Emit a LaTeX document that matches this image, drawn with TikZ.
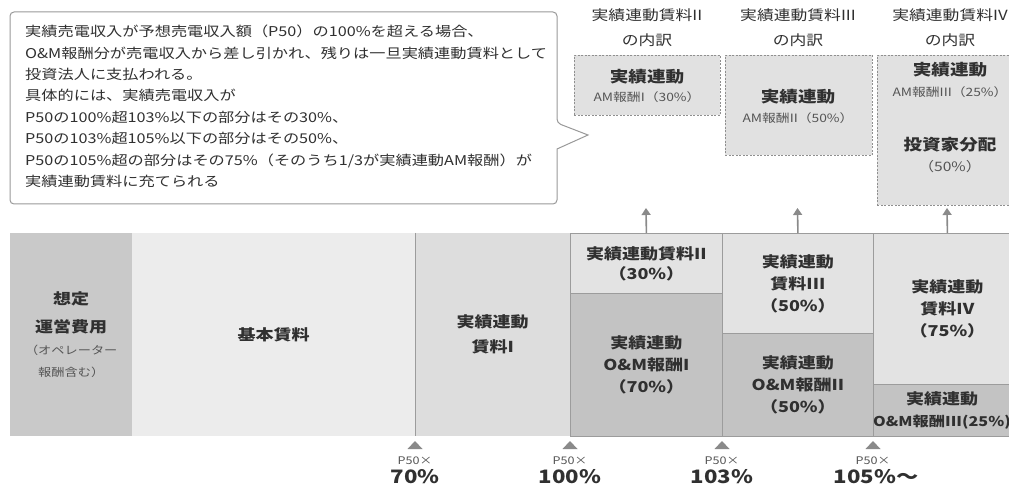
\documentclass[tikz,border=0pt]{standalone}
\usepackage{fontspec}
\setmainfont{Noto Sans CJK JP}[FakeStretch=1.2]
\usetikzlibrary{arrows.meta}
\definecolor{cA}{HTML}{C9C9C9}
\definecolor{cB}{HTML}{ECECEC}
\definecolor{cC}{HTML}{DDDDDD}
\definecolor{ctop}{HTML}{E3E3E3}
\definecolor{cbot}{HTML}{C3C3C3}
\definecolor{boxc}{HTML}{E1E1E1}
\definecolor{edgec}{HTML}{9C9C9C}
\definecolor{dashc}{HTML}{8F8F8F}
\definecolor{txtc}{HTML}{303030}
\definecolor{subc}{HTML}{555555}
\definecolor{arrc}{HTML}{8A8A8A}
\definecolor{callc}{HTML}{999999}
\newcommand{\smallsub}{\mdseries\fontsize{11}{22}\selectfont\color{subc}}
\begin{document}
\begin{tikzpicture}[x=1pt,y=-1pt,
  sec/.style={inner sep=0pt, anchor=north west, align=center, text=txtc, font=\bfseries\fontsize{15}{22}\selectfont},
  secb/.style={sec, draw=edgec, line width=0.8pt},
  dbox/.style={draw=dashc, dash pattern=on 2pt off 1.5pt, line width=0.8pt, fill=boxc, inner sep=0pt, anchor=north west},
  head/.style={align=center, text=txtc, font=\fontsize{14}{25}\selectfont, inner sep=0pt},
  boxbig/.style={text=txtc, font=\bfseries\fontsize{15.5}{20}\selectfont, inner sep=0pt},
  boxsmall/.style={text=subc, font=\fontsize{11.5}{16}\selectfont, inner sep=0pt},
  uparrow/.style={draw=arrc, line width=1.6pt, -{Triangle[width=9pt,length=7pt]}},
  tri/.style={fill=arrc},
  axsmall/.style={text=subc, font=\fontsize{10.5}{12}\selectfont, inner sep=0pt},
  axbig/.style={text=txtc, font=\bfseries\fontsize{18.5}{22}\selectfont, inner sep=0pt},
  notetext/.style={anchor=north west, align=left, inner sep=0pt, text=txtc, font=\fontsize{13.5}{21.4}\selectfont}
]
\useasboundingbox (0,0) rectangle (1009,486);

% callout
\draw[callc, line width=1pt, fill=white, rounded corners=4pt]
  (10,12) -- (557,12) -- (557,123) [sharp corners] -- (588,135) -- (557,149) [rounded corners=4pt] -- (557,204) -- (10,204) -- cycle;
\node[notetext] (note) at (25,25) {実績売電収入が予想売電収入額（P50）の100\%を超える場合、\\
O\&M報酬分が売電収入から差し引かれ、残りは一旦実績連動賃料として\\
投資法人に支払われる。\\
具体的には、実績売電収入が\\
P50の100\%超103\%以下の部分はその30\%、\\
P50の103\%超105\%以下の部分はその50\%、\\
P50の105\%超の部分はその75\%（そのうち1/3が実績連動AM報酬）が\\
実績連動賃料に充てられる};

% headings
\node[head] (h2) at (647,27.5) {実績連動賃料II\\の内訳};
\node[head] (h3) at (798,27.5) {実績連動賃料III\\の内訳};
\node[head] (h4) at (950,27.5) {実績連動賃料IV\\の内訳};

% breakdown boxes
\node[dbox, minimum width=146pt, minimum height=60pt] (b2) at (574,55) {};
\node[dbox, minimum width=147pt, minimum height=100pt] (b3) at (725,55) {};
\node[dbox, minimum width=150pt, minimum height=150pt] (b4) at (877,55) {};
\node[boxbig] (b2a) at (647,77) {実績連動};
\node[boxsmall] (b2b) at (647,97) {AM報酬I（30\%）};
\node[boxbig] (b3a) at (798,97) {実績連動};
\node[boxsmall] (b3b) at (798,118) {AM報酬II（50\%）};
\node[boxbig] (b4a) at (950,70) {実績連動};
\node[boxsmall] (b4b) at (950,92) {AM報酬III（25\%）};
\node[boxbig] (b4c) at (950,145) {投資家分配};
\node[boxsmall, font=\fontsize{13}{16}\selectfont] (b4d) at (950,167) {（50\%）};

% bar sections
\node[sec, fill=cA, minimum width=122pt, minimum height=203pt] (s1) at (10,233)
  {想定\\[6pt]運営費用\\\smallsub（オペレーター\\\smallsub 報酬含む）};
\node[sec, fill=cB, minimum width=283pt, minimum height=203pt] (s2) at (132,233) {基本賃料};
\node[sec, fill=cC, minimum width=155pt, minimum height=203pt] (s3) at (415,233) {実績連動\\[3pt]賃料I};
\draw[edgec, line width=1pt] (s3.north west) -- (s3.south west);
\node[secb, fill=ctop, minimum width=152pt, minimum height=60pt] (s4t) at (570,233) {実績連動賃料II\\[-2pt]（30\%）};
\node[secb, fill=cbot, minimum width=152pt, minimum height=143pt] (s4b) at (570,293) {実績連動\\O\&M報酬I\\（70\%）};
\node[secb, fill=ctop, minimum width=151pt, minimum height=100pt] (s5t) at (722,233) {実績連動\\賃料III\\（50\%）};
\node[secb, fill=cbot, minimum width=151pt, minimum height=103pt] (s5b) at (722,333) {実績連動\\O\&M報酬II\\（50\%）};
\node[secb, fill=ctop, minimum width=148pt, minimum height=151pt] (s6t) at (873,233) {実績連動\\賃料IV\\（75\%）};
\node[secb, fill=cbot, minimum width=148pt, minimum height=52pt] (s6b) at (873,384) {};
\node[sec, anchor=center] (s6btext) at (942,410) {実績連動\\\fontsize{13.5}{22}\selectfont O\&M報酬III(25\%)};

% up arrows
\coordinate (t2) at (646,208);
\coordinate (t3) at (797.5,208);
\coordinate (t4) at (947,208);
\draw[uparrow] (s4t.north) -- (t2);
\draw[uparrow] (s5t.north) -- (t3);
\draw[uparrow] (s6t.north) -- (t4);

% axis markers
\foreach \xx/\nm/\lab in {415/a/70\%, 570/b/100\%, 722/c/103\%} {
  \fill[tri] (\xx-7.5,449) -- (\xx,441) -- (\xx+7.5,449) -- cycle;
  \node[axsmall] (p\nm) at (\xx,461) {P50×};
  \node[axbig] (v\nm) at (\xx,477) {\lab};
}
\fill[tri] (865.5,449) -- (873,441) -- (880.5,449) -- cycle;
\node[axsmall] (pd) at (873,461) {P50×};
\node[axbig] (vd) at (876,477) {105\%～};
\end{tikzpicture}
\end{document}
